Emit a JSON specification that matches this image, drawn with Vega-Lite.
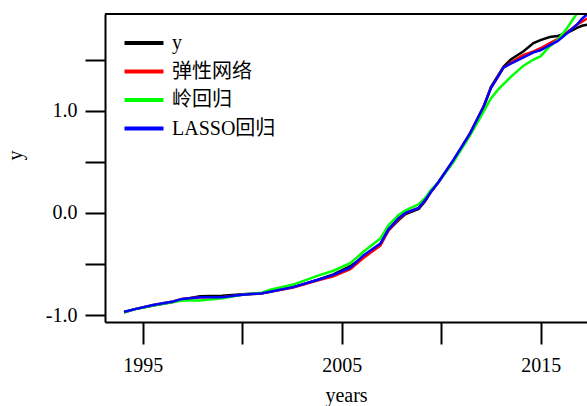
{
  "$schema": "https://vega.github.io/schema/vega-lite/v6.json",
  "width": 482,
  "height": 308,
  "autosize": {"type": "none"},
  "padding": {"left": 105, "top": 14, "right": 0, "bottom": 84},
  "background": "white",
  "config": {
    "view": {"stroke": null},
    "font": "Liberation Serif",
    "axis": {
      "domainColor": "black", "domainWidth": 2, "tickColor": "black", "tickWidth": 2,
      "labelFont": "Liberation Serif", "labelFontSize": 20, "labelColor": "black",
      "titleFont": "Liberation Serif", "titleFontSize": 20, "titleColor": "black", "titleFontWeight": "normal",
      "grid": false
    }
  },
  "datasets": {
    "series": [
      {"year": 1994.06, "y": -0.97, "弹性网络": -0.97, "岭回归": -0.97, "LASSO回归": -0.965},
      {"year": 1994.61, "y": -0.94, "弹性网络": -0.94, "岭回归": -0.94, "LASSO回归": -0.94},
      {"year": 1995.52, "y": -0.905, "弹性网络": -0.9, "岭回归": -0.905, "LASSO回归": -0.9},
      {"year": 1996.52, "y": -0.87, "弹性网络": -0.865, "岭回归": -0.87, "LASSO回归": -0.865},
      {"year": 1996.98, "y": -0.845, "弹性网络": -0.84, "岭回归": -0.855, "LASSO回归": -0.84},
      {"year": 1997.88, "y": -0.815, "弹性网络": -0.825, "岭回归": -0.855, "LASSO回归": -0.825},
      {"year": 1998.99, "y": -0.81, "弹性网络": -0.825, "岭回归": -0.835, "LASSO回归": -0.825},
      {"year": 2000.0, "y": -0.795, "弹性网络": -0.8, "岭回归": -0.8, "LASSO回归": -0.8},
      {"year": 2001.0, "y": -0.785, "弹性网络": -0.785, "岭回归": -0.78, "LASSO回归": -0.785},
      {"year": 2001.41, "y": -0.765, "弹性网络": -0.77, "岭回归": -0.75, "LASSO回归": -0.77},
      {"year": 2002.56, "y": -0.725, "弹性网络": -0.73, "岭回归": -0.7, "LASSO回归": -0.725},
      {"year": 2003.77, "y": -0.655, "弹性网络": -0.66, "岭回归": -0.615, "LASSO回归": -0.655},
      {"year": 2004.58, "y": -0.6, "弹性网络": -0.62, "岭回归": -0.565, "LASSO回归": -0.605},
      {"year": 2005.43, "y": -0.52, "弹性网络": -0.55, "岭回归": -0.49, "LASSO回归": -0.535},
      {"year": 2006.09, "y": -0.43, "弹性网络": -0.44, "岭回归": -0.38, "LASSO回归": -0.415},
      {"year": 2006.94, "y": -0.31, "弹性网络": -0.32, "岭回归": -0.25, "LASSO回归": -0.3},
      {"year": 2007.35, "y": -0.17, "弹性网络": -0.17, "岭回归": -0.12, "LASSO回归": -0.16},
      {"year": 2007.86, "y": -0.07, "弹性网络": -0.06, "岭回归": -0.02, "LASSO回归": -0.05},
      {"year": 2008.21, "y": -0.01, "弹性网络": 0.0, "岭回归": 0.025, "LASSO回归": 0.0},
      {"year": 2008.87, "y": 0.04, "弹性网络": 0.05, "岭回归": 0.085, "LASSO回归": 0.05},
      {"year": 2009.21, "y": 0.12, "弹性网络": 0.13, "岭回归": 0.15, "LASSO回归": 0.13},
      {"year": 2009.46, "y": 0.2, "弹性网络": 0.2, "岭回归": 0.22, "LASSO回归": 0.2},
      {"year": 2009.86, "y": 0.3, "弹性网络": 0.3, "岭回归": 0.3, "LASSO回归": 0.3},
      {"year": 2010.62, "y": 0.51, "弹性网络": 0.51, "岭回归": 0.5, "LASSO回归": 0.52},
      {"year": 2011.46, "y": 0.78, "弹性网络": 0.78, "岭回归": 0.76, "LASSO回归": 0.78},
      {"year": 2012.13, "y": 1.03, "弹性网络": 1.04, "岭回归": 0.99, "LASSO回归": 1.04},
      {"year": 2012.5, "y": 1.23, "弹性网络": 1.22, "岭回归": 1.12, "LASSO回归": 1.22},
      {"year": 2012.88, "y": 1.35, "弹性网络": 1.34, "岭回归": 1.21, "LASSO回归": 1.34},
      {"year": 2013.13, "y": 1.43, "弹性网络": 1.42, "岭回归": 1.26, "LASSO回归": 1.42},
      {"year": 2013.5, "y": 1.5, "弹性网络": 1.47, "岭回归": 1.33, "LASSO回归": 1.46},
      {"year": 2014.14, "y": 1.58, "弹性网络": 1.545, "岭回归": 1.44, "LASSO回归": 1.52},
      {"year": 2014.64, "y": 1.66, "弹性网络": 1.58, "岭回归": 1.5, "LASSO回归": 1.57},
      {"year": 2014.99, "y": 1.69, "弹性网络": 1.61, "岭回归": 1.53, "LASSO回归": 1.59},
      {"year": 2015.46, "y": 1.72, "弹性网络": 1.66, "岭回归": 1.63, "LASSO回归": 1.64},
      {"year": 2015.85, "y": 1.73, "弹性网络": 1.7, "岭回归": 1.69, "LASSO回归": 1.68},
      {"year": 2016.34, "y": 1.76, "弹性网络": 1.77, "岭回归": 1.81, "LASSO回归": 1.76},
      {"year": 2016.82, "y": 1.81, "弹性网络": 1.84, "岭回归": 1.95, "LASSO回归": 1.84},
      {"year": 2017.08, "y": 1.83, "弹性网络": 1.87, "岭回归": 2.03, "LASSO回归": 1.9},
      {"year": 2017.33, "y": 1.84, "弹性网络": 1.9, "岭回归": 2.1, "LASSO回归": 1.94}
    ]
  },
  "layer": [
    {
      "data": {"name": "series"},
      "transform": [
        {"fold": ["y", "弹性网络", "岭回归", "LASSO回归"], "as": ["model", "value"]}
      ],
      "encoding": {
        "x": {
          "field": "year", "type": "quantitative",
          "scale": {"domain": [1993.1, 2017.33], "nice": false, "zero": false},
          "axis": {
            "title": "years", "values": [1995, 2000, 2005, 2010, 2015],
            "labelExpr": "datum.value % 10 == 5 ? '' + datum.value : ''",
            "tickSize": 22, "labelPadding": 11, "titlePadding": 10, "labelFlush": false
          }
        },
        "y": {
          "field": "value", "type": "quantitative",
          "scale": {"domain": [-1.066, 1.945], "nice": false, "zero": false},
          "axis": {
            "title": "y", "values": [-1, -0.5, 0, 0.5, 1, 1.5],
            "labelExpr": "datum.value == 1 ? '1.0' : datum.value == 0 ? '0.0' : datum.value == -1 ? '-1.0' : ''",
            "tickSize": 20, "labelPadding": 8, "titleY": 141, "titleX": -80, "titleAngle": -90, "labelFlush": false
          }
        },
        "color": {
          "field": "model", "type": "nominal",
          "scale": {"domain": ["y", "弹性网络", "岭回归", "LASSO回归"], "range": ["#000000", "#ff0000", "#00ff00", "#0000ff"]},
          "legend": {
            "title": null, "orient": "none", "legendX": 27, "legendY": 17,
            "symbolType": "M-2,0H2", "symbolSize": 380, "symbolStrokeWidth": 4,
            "labelFont": "Liberation Serif, Noto Sans CJK SC", "labelFontSize": 20, "labelColor": "black",
            "labelOffset": 16, "rowPadding": 6.5, "padding": 0, "symbolOffset": 0
          }
        }
      },
      "layer": [
        {"transform": [{"filter": "datum.model == 'y'"}], "mark": {"type": "line", "strokeWidth": 2.5, "clip": true}},
        {"transform": [{"filter": "datum.model == '弹性网络'"}], "mark": {"type": "line", "strokeWidth": 2.5, "clip": true}},
        {"transform": [{"filter": "datum.model == '岭回归'"}], "mark": {"type": "line", "strokeWidth": 2.5, "clip": true}},
        {"transform": [{"filter": "datum.model == 'LASSO回归'"}], "mark": {"type": "line", "strokeWidth": 2.5, "clip": true}}
      ]
    },
    {
      "data": {"values": [{"top": 1.945}]},
      "mark": {"type": "rule", "color": "black", "strokeWidth": 2},
      "encoding": {"y": {"field": "top", "type": "quantitative"}}
    }
  ]
}
